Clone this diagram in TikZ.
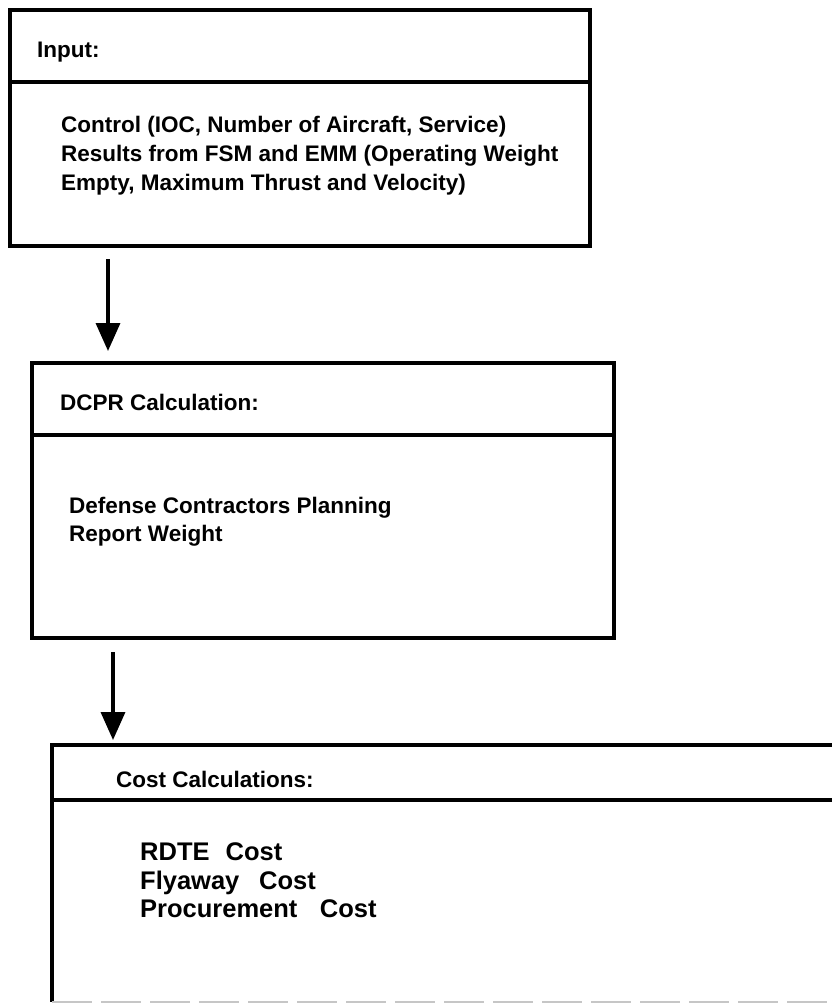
\documentclass[tikz,border=0pt]{standalone}
\usepackage{fontspec}
\setmainfont{Liberation Sans}
\usetikzlibrary{arrows.meta}
\begin{document}
\begin{tikzpicture}[x=1pt,y=-1pt,
  boxline/.style={line width=4pt, line join=miter},
  panel/.style={draw, line width=4pt, inner sep=0pt, outer sep=0pt, anchor=north west},
  lbl/.style={anchor=base west, inner sep=0pt, font=\fontsize{22.5}{27}\selectfont\bfseries},
  big/.style={anchor=base west, inner sep=0pt, font=\fontsize{25.5}{30}\selectfont\bfseries},
  arr/.style={line width=3.5pt, -{Triangle[width=24pt,length=28pt]}}]
\useasboundingbox[fill=white] (0,0) rectangle (832,1004);

% Box 1
\node[panel, minimum width=580pt, minimum height=236pt] (b1) at (10,10) {};
\draw[boxline] (b1.west |- 0,82) -- (b1.east |- 0,82);
\node[lbl] (t1h) at (37,57) {Input:};
\node[lbl] (t1a) at (61,132) {Control (IOC, Number of Aircraft, Service)};
\node[lbl] (t1b) at (61,161) {Results from FSM and EMM (Operating Weight};
\node[lbl] (t1c) at (61,190) {Empty, Maximum Thrust and Velocity)};

% Box 2
\node[panel, minimum width=582pt, minimum height=275pt] (b2) at (32,363) {};
\draw[boxline] (b2.west |- 0,435) -- (b2.east |- 0,435);
\node[lbl] (t2h) at (60,410) {DCPR Calculation:};
\node[lbl] (t2a) at (69,513) {Defense Contractors Planning};
\node[lbl] (t2b) at (69,541) {Report Weight};

% Box 3 (runs off the right edge)
\node[inner sep=0pt, outer sep=0pt, anchor=north west, minimum width=800pt, minimum height=257pt] (b3) at (52,745) {};
\draw[boxline] (b3.north east) -- (b3.north west) -- (b3.south west);
\draw[gray!45, line width=1.5pt, dash pattern=on 40pt off 9pt] (b3.south west) -- (b3.south east);
\draw[boxline] (b3.west |- 0,800) -- (b3.east |- 0,800);
\node[lbl] (t3h) at (116,787) {Cost Calculations:};
\node[big] (t3a) at (140,860) {RDTE\hspace{0.35em} Cost};
\node[big] (t3b) at (140,889) {Flyaway\hspace{0.5em} Cost};
\node[big] (t3c) at (140,917) {Procurement\hspace{0.6em} Cost};

% Arrows
\coordinate (a1s) at (108,259);
\draw[arr, shorten >=12pt] (a1s) -- (a1s |- b2.north);
\coordinate (a2s) at (113,652);
\draw[arr, shorten >=5pt] (a2s) -- (a2s |- b3.north);
\end{tikzpicture}
\end{document}
